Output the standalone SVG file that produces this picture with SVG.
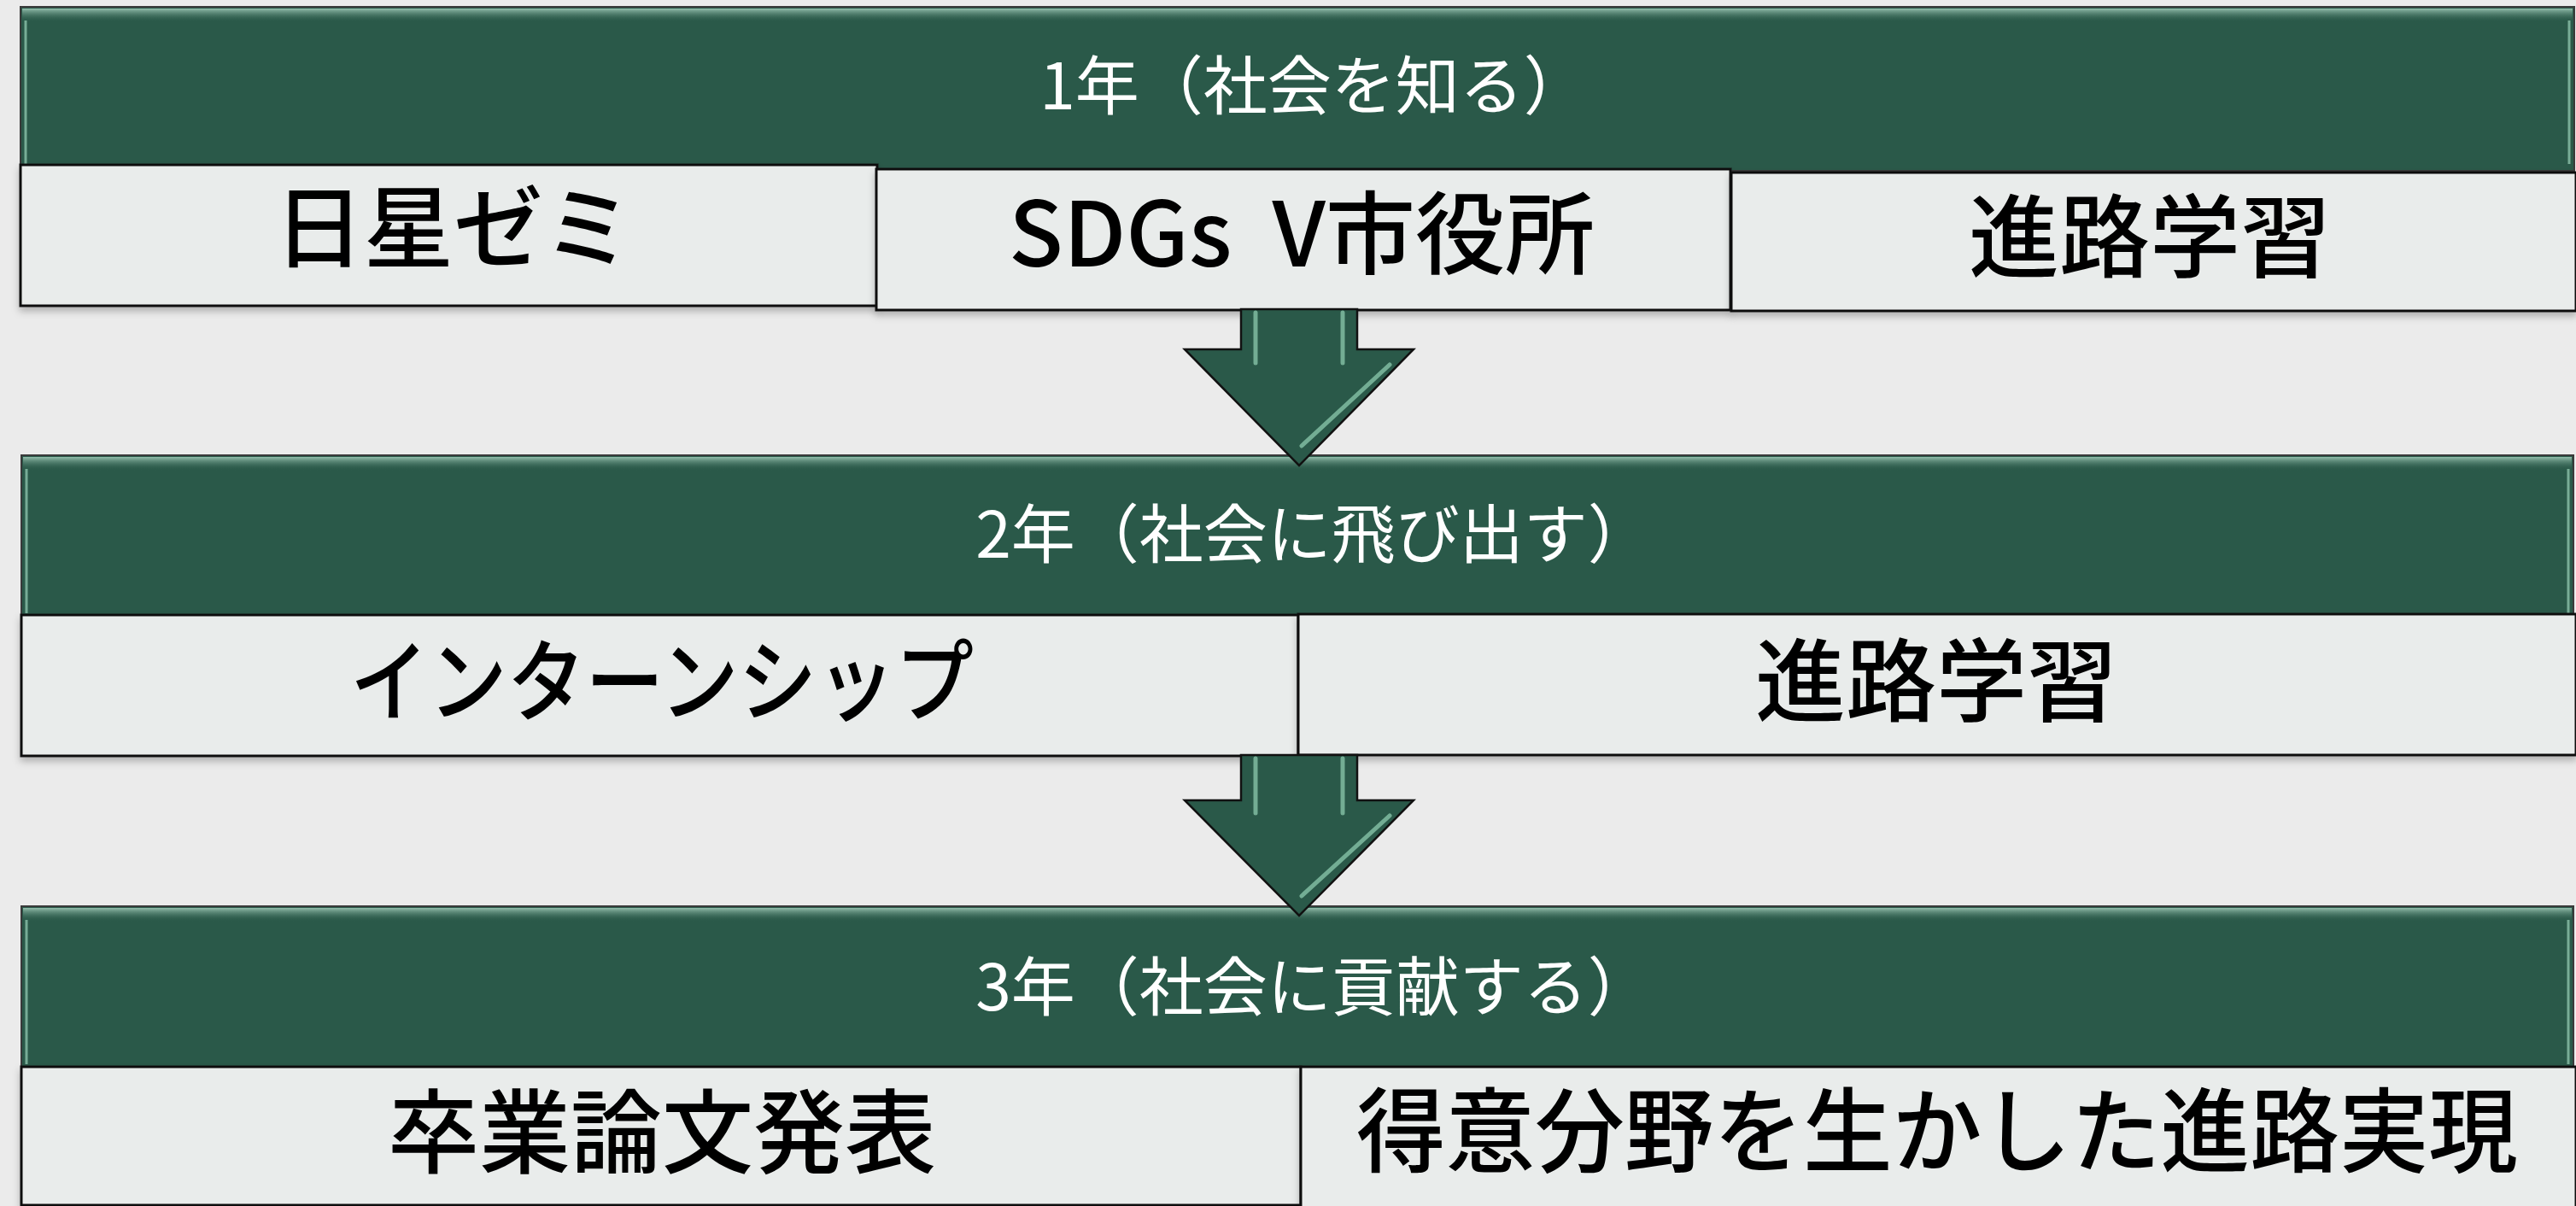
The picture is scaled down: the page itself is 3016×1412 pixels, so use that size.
<svg xmlns="http://www.w3.org/2000/svg" width="3016" height="1412" viewBox="0 0 3016 1412">
<style>
  .hdr { fill: #2A5949; stroke: #3a3a3a; stroke-width: 2; }
  .hl-top { fill: url(#topGlow); }
  .hl-side { stroke: #8cc2ab; stroke-width: 3; opacity: 0.8; }
  .box { fill: #E9ECEB; stroke: #111; stroke-width: 3; filter: url(#sh); }
  .htxt { font-family: 'Noto Sans CJK JP', 'Noto Sans', sans-serif; font-size: 75px; fill: #ffffff; text-anchor: middle; }
  .btxt { font-family: 'Noto Sans CJK JP', 'Noto Sans', sans-serif; font-weight: 500; fill: #000; text-anchor: middle; }
  .arrow { fill: #2A5949; stroke: #111; stroke-width: 2.5; stroke-linejoin: miter; }
  .arrow-hl { stroke: #8cc9ae; stroke-width: 5; fill: none; opacity: 0.75; stroke-linecap: round; }
</style>
<defs>
  <linearGradient id="topGlow" x1="0" y1="0" x2="0" y2="1">
    <stop offset="0" stop-color="#9fc9b7" stop-opacity="0.9"/>
    <stop offset="1" stop-color="#2A5949" stop-opacity="0"/>
  </linearGradient>
  <filter id="sh" x="-5%" y="-10%" width="110%" height="130%">
    <feDropShadow dx="0" dy="5" stdDeviation="4" flood-color="#000" flood-opacity="0.25"/>
  </filter>
</defs>
<rect x="0" y="0" width="3016" height="1412" fill="#EBEBEB"/>

<!-- Year 1 -->
<g id="header1">
  <rect class="hdr" x="24" y="8" width="2990" height="192"/>
  <rect class="hl-top" x="26" y="10" width="2986" height="16"/>
  <line class="hl-side" x1="30" y1="24" x2="30" y2="192"/>
  <line class="hl-side" x1="3008" y1="24" x2="3008" y2="192"/>
  <text class="htxt" x="1538" y="128">1年（社会を知る）</text>
</g>
<g id="box-nichisei">
  <rect class="box" x="24" y="193" width="1003" height="165"/>
  <text class="btxt" x="531" y="305" font-size="105">日星ゼミ</text>
</g>
<g id="box-sdgs">
  <rect class="box" x="1026" y="198" width="1000" height="165"/>
  <text class="btxt" x="1524" y="312" font-size="105" style="white-space:pre">SDGs  V市役所</text>
</g>
<g id="box-shinro1">
  <rect class="box" x="2027" y="202" width="989" height="162"/>
  <text class="btxt" x="2517" y="316" font-size="106">進路学習</text>
</g>

<!-- Year 2 -->
<g id="header2">
  <rect class="hdr" x="25" y="533" width="2988" height="190"/>
  <rect class="hl-top" x="27" y="535" width="2984" height="16"/>
  <line class="hl-side" x1="31" y1="549" x2="31" y2="718"/>
  <line class="hl-side" x1="3007" y1="549" x2="3007" y2="718"/>
  <text class="htxt" x="1538" y="653">2年（社会に飛び出す）</text>
</g>
<g id="box-intern">
  <rect class="box" x="25" y="720" width="1495" height="165"/>
  <text class="btxt" x="775" y="836" font-size="105" textLength="730" lengthAdjust="spacingAndGlyphs">インターンシップ</text>
</g>
<g id="box-shinro2">
  <rect class="box" x="1520" y="719" width="1496" height="165"/>
  <text class="btxt" x="2267" y="836" font-size="106">進路学習</text>
</g>

<!-- Year 3 -->
<g id="header3">
  <rect class="hdr" x="25" y="1061" width="2988" height="190"/>
  <rect class="hl-top" x="27" y="1063" width="2984" height="16"/>
  <line class="hl-side" x1="31" y1="1077" x2="31" y2="1246"/>
  <line class="hl-side" x1="3007" y1="1077" x2="3007" y2="1246"/>
  <text class="htxt" x="1538" y="1183">3年（社会に貢献する）</text>
</g>
<g id="box-sotsugyo">
  <rect class="box" x="25" y="1249" width="1498" height="162"/>
  <text class="btxt" x="775" y="1365" font-size="107">卒業論文発表</text>
</g>
<g id="box-tokui">
  <rect class="box" x="1523" y="1249" width="1493" height="165"/>
  <text class="btxt" x="2268" y="1364" font-size="108" textLength="1360" lengthAdjust="spacingAndGlyphs">得意分野を生かした進路実現</text>
</g>

<!-- Connectors -->
<g id="connectors">
  <g id="arrow1">
    <path class="arrow" d="M1453,362 L1589,362 L1589,409 L1655,409 L1521,545 L1387,409 L1453,409 Z"/>
    <line class="arrow-hl" x1="1470" y1="366" x2="1470" y2="425"/>
    <line class="arrow-hl" x1="1572" y1="366" x2="1572" y2="425"/>
    <line class="arrow-hl" x1="1627" y1="427" x2="1524" y2="522"/>
  </g>
  <g id="arrow2">
    <path class="arrow" d="M1453,884 L1589,884 L1589,937 L1655,937 L1521,1072 L1387,937 L1453,937 Z"/>
    <line class="arrow-hl" x1="1470" y1="888" x2="1470" y2="952"/>
    <line class="arrow-hl" x1="1572" y1="888" x2="1572" y2="952"/>
    <line class="arrow-hl" x1="1627" y1="955" x2="1524" y2="1049"/>
  </g>
</g>
</svg>
